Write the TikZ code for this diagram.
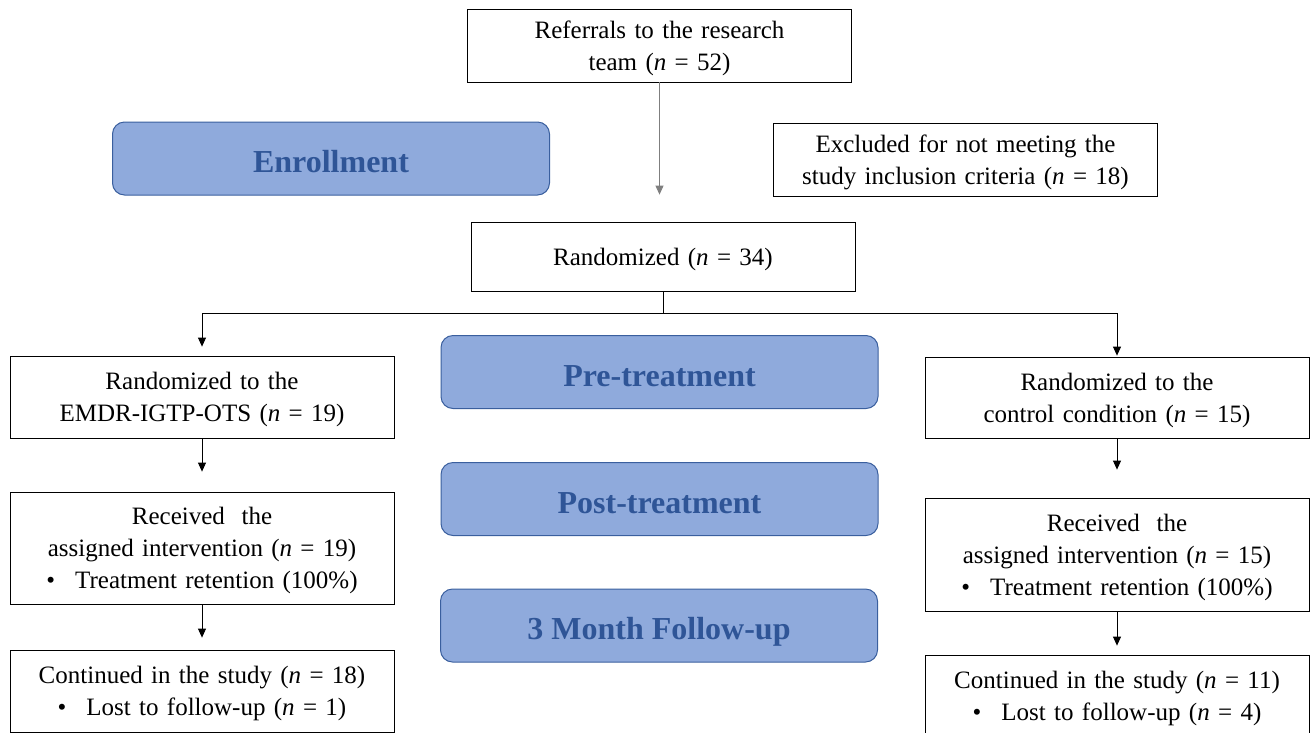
\documentclass[tikz,border=0pt]{standalone}
\usepackage{fontspec}
\setmainfont{Liberation Serif}
\usepackage{xcolor}
\usepackage{tikz}
\usetikzlibrary{
  arrows.meta,
  positioning
}
\definecolor{phasefill}{HTML}{8FAADC}
\definecolor{phaseline}{HTML}{3A5F9E}
\definecolor{phasetext}{HTML}{2F5597}
\definecolor{arrowgrey}{HTML}{7F7F7F}
\tikzset{
  flowbox/.style={
    rectangle, draw=black, line width=0.8pt, fill=white,
    text width=370pt, align=center, inner sep=0pt,
    minimum width=384pt, font=\fontsize{25}{32}\selectfont,
    execute at begin node={\rule{0pt}{23pt}}
  },
  phasebox/.style={
    rectangle, rounded corners=12pt, draw=phaseline, line width=1pt,
    fill=phasefill, minimum width=437pt, minimum height=73pt,
    align=center, text=phasetext, text height=30pt, text depth=2pt,
    font=\fontsize{32}{36}\selectfont\bfseries
  },
  flowarrow/.style={
    -{Triangle[length=9pt,width=8pt]}, line width=0.8pt, color=black
  },
  flowline/.style={
    line width=0.8pt, color=black
  },
}

\begin{document}
\begin{tikzpicture}[x=1pt,y=-1pt]
  \useasboundingbox (0,0) rectangle (1311,732);

  %% Top of the flow
  \node[flowbox, minimum height=73pt] (referrals) at (659.5,45.5)
    {Referrals to the research\\team (\textit{n} = 52)};
  \node[flowbox, minimum height=73pt] (excluded) at (965.5,159.5)
    {Excluded for not meeting the\\study inclusion criteria (\textit{n} = 18)};
  \node[flowbox, minimum height=69pt] (randomized) at (663,256.5)
    {Randomized (\textit{n} = 34)};

  %% Phase labels
  \node[phasebox] (enroll) at (331,158.5) {Enrollment};
  \node[phasebox] (pretreat) at (659.5,372) {Pre-treatment};
  \node[phasebox] (posttreat) at (659.5,499) {Post-treatment};
  \node[phasebox] (followup) at (659,625.5) {3 Month Follow-up};

  %% EMDR-IGTP-OTS arm
  \node[flowbox, minimum height=82pt] (emdrrand) at (202,397)
    {Randomized to the\\EMDR-IGTP-OTS (\textit{n} = 19)};
  \node[flowbox, minimum height=112pt] (emdrrecv) at (202,548)
    {Received~~the\\assigned intervention (\textit{n} = 19)\\
     \textbullet\hspace{20pt}Treatment retention (100\%)};
  \node[flowbox, minimum height=82pt] (emdrcont) at (202,691)
    {Continued in the study (\textit{n} = 18)\\
     \textbullet\hspace{20pt}Lost to follow-up (\textit{n} = 1)};

  %% Control arm
  \node[flowbox, minimum height=81pt] (ctrlrand) at (1117,397.5)
    {Randomized to the\\control condition (\textit{n} = 15)};
  \node[flowbox, minimum height=113pt] (ctrlrecv) at (1117,554.5)
    {Received~~the\\assigned intervention (\textit{n} = 15)\\
     \textbullet\hspace{20pt}Treatment retention (100\%)};
  \node[flowbox, minimum height=82pt] (ctrlcont) at (1117,696)
    {Continued in the study (\textit{n} = 11)\\
     \textbullet\hspace{20pt}Lost to follow-up (\textit{n} = 4)};

  %% Connectors
  \draw[flowarrow, color=arrowgrey, shorten >=27pt]
    (referrals.south) -- (referrals.south |- randomized.north);
  \coordinate (fork) at (663,313);
  \draw[flowline] (randomized.south) -- (fork);
  \draw[flowarrow, shorten >=9pt] (fork) -| (emdrrand.north);
  \draw[flowarrow, shorten >=1pt] (fork) -| (ctrlrand.north);

  \draw[flowarrow, shorten >=20pt] (emdrrand) -- (emdrrecv);
  \draw[flowarrow, shorten >=12pt] (emdrrecv) -- (emdrcont);
  \draw[flowarrow, shorten >=28pt] (ctrlrand) -- (ctrlrecv);
  \draw[flowarrow, shorten >=9pt] (ctrlrecv) -- (ctrlcont);
\end{tikzpicture}
\end{document}
